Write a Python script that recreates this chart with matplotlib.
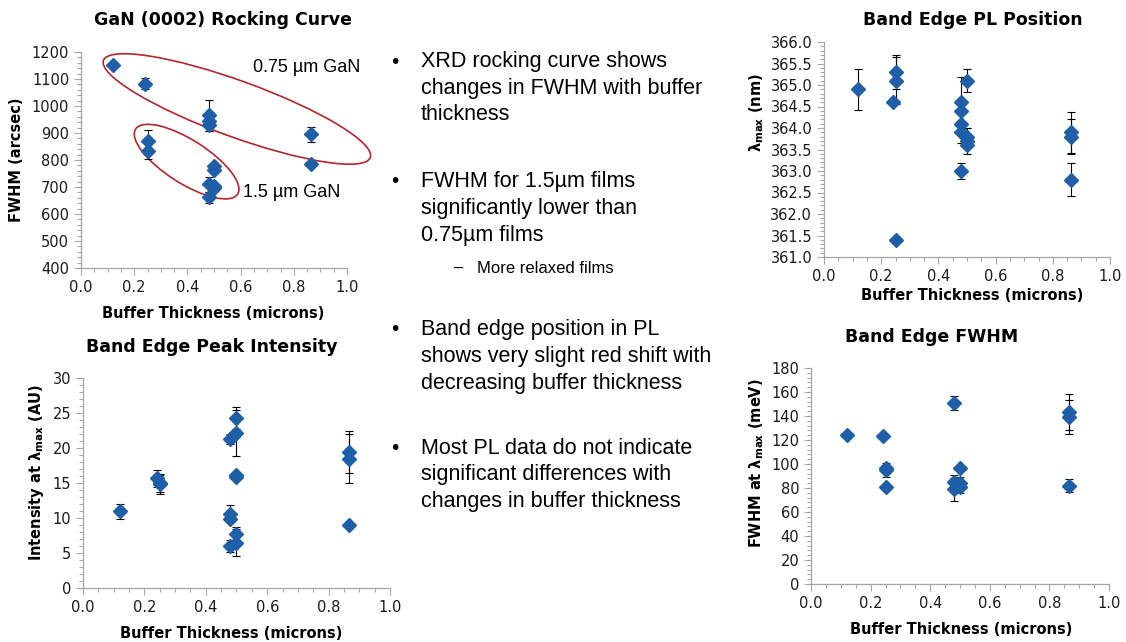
import numpy as np
import matplotlib
matplotlib.use('Agg')
import matplotlib.pyplot as plt
from matplotlib.patches import Ellipse
from matplotlib.ticker import MultipleLocator, AutoMinorLocator
from matplotlib.transforms import ScaledTranslation

# GaN (0002) rocking curve
rc_x = [0.12, 0.24, 0.25, 0.25, 0.48, 0.48, 0.48, 0.48, 0.48, 0.50, 0.50, 0.50, 0.50, 0.865, 0.865]
rc_fwhm = [1152, 1082, 870, 835, 965, 945, 928, 710, 662, 778, 762, 702, 695, 895, 786]
rc_err = [0, 20, 40, 30, 58, 0, 20, 28, 20, 10, 0, 0, 10, 29, 0]

# band edge peak intensity
int_x = [0.12, 0.24, 0.25, 0.25, 0.48, 0.49, 0.48, 0.48, 0.48, 0.50, 0.50, 0.50, 0.50, 0.50, 0.50, 0.865, 0.865, 0.865]
int_val = [10.95, 15.7, 15.0, 14.8, 21.3, 21.7, 10.6, 9.8, 6.0, 24.3, 22.2, 16.1, 15.8, 7.7, 6.5, 19.4, 18.5, 9.0]
int_err = [1.1, 1.2, 1.3, 1.4, 0.7, 0.0, 1.2, 0.0, 0.8, 1.6, 3.3, 0.3, 0.0, 1.0, 1.9, 3.0, 3.5, 0.2]

# band edge PL position
pl_x = [0.12, 0.24, 0.25, 0.25, 0.25, 0.48, 0.48, 0.48, 0.48, 0.48, 0.50, 0.50, 0.50, 0.50, 0.865, 0.865, 0.865]
pl_val = [364.9, 364.6, 365.3, 365.1, 361.4, 364.6, 364.4, 364.1, 363.9, 363.0, 365.1, 363.8, 363.7, 363.6, 363.9, 363.8, 362.8]
pl_err = [0.48, 0.0, 0.4, 0.55, 0.0, 0.58, 0.0, 0.0, 0.25, 0.18, 0.27, 0.2, 0.3, 0.0, 0.48, 0.4, 0.38]

# band edge FWHM
bw_x = [0.12, 0.24, 0.25, 0.25, 0.25, 0.48, 0.48, 0.48, 0.49, 0.50, 0.50, 0.50, 0.865, 0.865, 0.865]
bw_val = [124, 123, 97, 95, 81, 151, 85, 79, 82, 97, 84, 81, 143, 139, 82]
bw_err = [0, 0, 2, 6, 0, 6, 6, 9.5, 0, 0, 5, 5, 15, 14, 5.5]

bullets = [
    ["XRD rocking curve shows", "changes in FWHM with buffer", "thickness"],
    ["FWHM for 1.5\u00b5m films", "significantly lower than", "0.75\u00b5m films"],
    ["Band edge position in PL", "shows very slight red shift with", "decreasing buffer thickness"],
    ["Most PL data do not indicate", "significant differences with", "changes in buffer thickness"],
]
sub_bullet = "More relaxed films"

chart_font = 'DejaVu Sans'
text_font = 'Liberation Sans'
blue = '#1f5fa8'
W, H = 1126, 642

fig = plt.figure(figsize=(W / 100, H / 100), dpi=100)


def px(x, y):
    return x / W, 1 - y / H


def style_axes(ax, ymin, ymax, ymajor, yfmt):
    ax.set_xlim(0, 1)
    ax.set_ylim(ymin, ymax)
    ax.xaxis.set_major_locator(MultipleLocator(0.2))
    ax.xaxis.set_minor_locator(AutoMinorLocator(4))
    ax.yaxis.set_major_locator(MultipleLocator(ymajor))
    ax.yaxis.set_minor_locator(AutoMinorLocator(5))
    ax.xaxis.set_major_formatter('{x:.1f}')
    ax.yaxis.set_major_formatter(yfmt)
    for s in ['top', 'right']:
        ax.spines[s].set_visible(False)
    for s in ['left', 'bottom']:
        ax.spines[s].set_color('#a6a6a6')
        ax.spines[s].set_linewidth(0.9)
    ax.tick_params(which='both', direction='out', color='#a6a6a6', labelcolor='#1a1a1a',
                   labelsize=10.5, width=0.8)
    ax.tick_params(which='major', length=5)
    ax.tick_params(which='minor', length=3)
    for lab in ax.get_xticklabels() + ax.get_yticklabels():
        lab.set_family(chart_font)


def scatter(ax, x, y, err):
    ax.errorbar(x, y, yerr=err, fmt='D', color=blue, ms=7, mec=blue,
                ecolor='black', elinewidth=0.8, capsize=3, capthick=0.8, zorder=3)


def labels(title, tpos, xl, xpos, yl, ypos):
    fig.text(*px(*tpos), title, ha='center', va='center', fontsize=12.5, fontweight='bold',
             family=chart_font)
    fig.text(*px(*xpos), xl, ha='center', va='center', fontsize=10.5, fontweight='bold',
             family=chart_font)
    fig.text(*px(*ypos), yl, ha='center', va='center', fontsize=10.5, fontweight='bold',
             family=chart_font, rotation=90)


ax1 = fig.add_axes([81 / W, 1 - 268 / H, 266 / W, 216 / H])
scatter(ax1, rc_x, rc_fwhm, rc_err)
style_axes(ax1, 400, 1200, 100, '{x:.0f}')
labels('GaN (0002) Rocking Curve', (223, 20), 'Buffer Thickness (microns)', (213, 313),
       'FWHM (arcsec)', (17, 160))

# group ellipses, sized in pixels around a data-space centre
for (cx, cy), a, b, ang in [((0.586, 989), 142, 28, -20), ((0.397, 794), 60.5, 21.7, -32.5)]:
    tr = fig.dpi_scale_trans + ScaledTranslation(cx, cy, ax1.transData)
    ax1.add_patch(Ellipse((0, 0), 2 * a / 100, 2 * b / 100, angle=ang, transform=tr,
                          fill=False, ec='#b5252b', lw=1.2, clip_on=False, zorder=2))
ax1.text(0.647, 1141, '0.75 \u00b5m GaN', fontsize=13, family=text_font, va='center')
ax1.text(0.609, 681, '1.5 \u00b5m GaN', fontsize=13, family=text_font, va='center')

ax2 = fig.add_axes([83 / W, 1 - 588 / H, 307 / W, 210 / H])
scatter(ax2, int_x, int_val, int_err)
style_axes(ax2, 0, 30, 5, '{x:.0f}')
labels('Band Edge Peak Intensity', (212, 347), 'Buffer Thickness (microns)', (231, 633),
       r'Intensity at $\mathregular{\lambda_{max}}$ (AU)', (37, 473))

ax3 = fig.add_axes([824 / W, 1 - 257 / H, 286 / W, 215 / H])
scatter(ax3, pl_x, pl_val, pl_err)
style_axes(ax3, 361, 366, 0.5, '{x:.1f}')
labels('Band Edge PL Position', (973, 20), 'Buffer Thickness (microns)', (972, 295),
       r'$\mathregular{\lambda_{max}}$ (nm)', (757, 113))

ax4 = fig.add_axes([811 / W, 1 - 584 / H, 298 / W, 216 / H])
scatter(ax4, bw_x, bw_val, bw_err)
style_axes(ax4, 0, 180, 20, '{x:.0f}')
labels('Band Edge FWHM', (932, 337), 'Buffer Thickness (microns)', (961, 630),
       r'FWHM at $\mathregular{\lambda_{max}}$ (meV)', (757, 463))

# bullet text in the middle
starts = [62, 182, 330, 448]
for y0, block in zip(starts, bullets):
    fig.text(*px(395, y0), '\u2022', fontsize=15, family=text_font, va='center', ha='center')
    for i, line in enumerate(block):
        fig.text(*px(421, y0 + i * 26.5), line, fontsize=15.5, family=text_font, va='center')
fig.text(*px(459, 268), '\u2013', fontsize=12, family=text_font, va='center', ha='center')
fig.text(*px(477, 268), sub_bullet, fontsize=12, family=text_font, va='center')

fig.savefig('out.png', dpi=100)
